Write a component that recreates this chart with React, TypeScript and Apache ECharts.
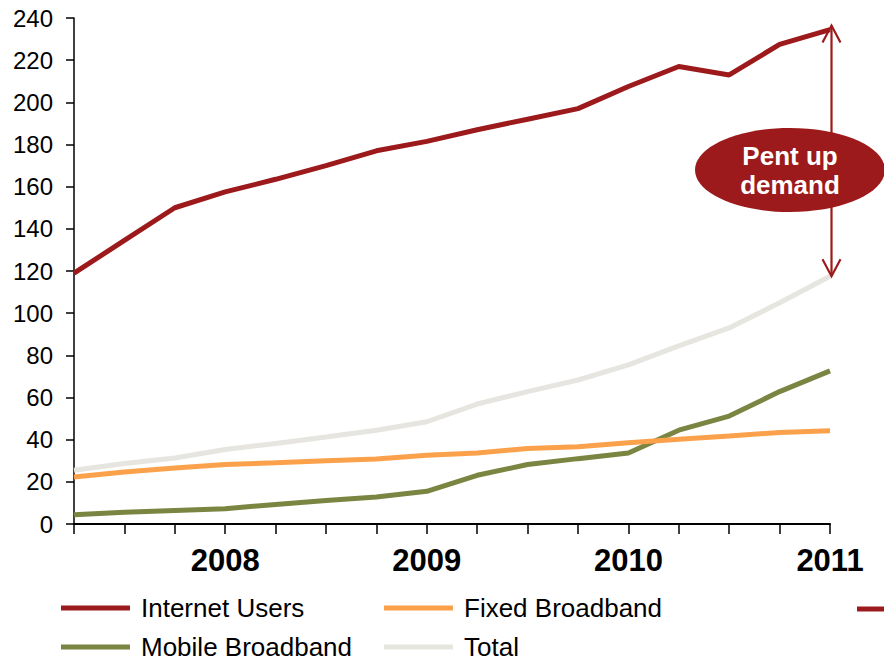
import React, { useEffect, useRef } from "react";
import * as echarts from "echarts";

const periods = [
  "Q1 2007", "Q2 2007", "Q3 2007", "Q4 2007",
  "Q1 2008", "Q2 2008", "Q3 2008", "Q4 2008",
  "Q1 2009", "Q2 2009", "Q3 2009", "Q4 2009",
  "Q1 2010", "Q2 2010", "Q3 2010", "Q4 2010",
];
const tickLabels = ["", "", "", "2008", "", "", "", "2009", "", "", "", "2010", "", "", "", "2011"];

const internetUsers = [119, 134.5, 150, 157.5, 163.5, 170, 177, 181.5, 187, 192, 197, 207.5, 217, 213, 227.5, 234.5];
const fixedBroadband = [22.3, 24.7, 26.6, 28.2, 29, 30, 30.8, 32.6, 33.7, 35.8, 36.6, 38.5, 40.2, 41.7, 43.4, 44.2];
const mobileBroadband = [4.4, 5.6, 6.4, 7.2, 9.3, 11.2, 12.8, 15.5, 23.1, 28.2, 31, 33.7, 44.5, 51.2, 62.8, 72.6];
const total = [25.5, 28.7, 31.3, 35.3, 38.2, 41.3, 44.5, 48.5, 56.9, 62.8, 68.3, 75.5, 84.5, 93, 104.9, 117.5];

const yTicks = { min: 0, max: 240, interval: 20 };

const RED = "#9C1A1C";
const ORANGE = "#FBA14B";
const GREEN = "#7A8542";
const GREY = "#E6E5E0";
const FONT = "'Liberation Sans', Arial, Helvetica, sans-serif";

export default function App() {
  const ref = useRef<HTMLDivElement>(null);

  useEffect(() => {
    document.body.style.margin = "0";
    if (!ref.current) return;
    const chart = echarts.init(ref.current, null, { renderer: "svg" });

    const legendCommon = {
      orient: "vertical" as const,
      top: 595,
      height: 90,
      padding: 0,
      itemGap: 13,
      itemWidth: 69,
      itemHeight: 5,
      icon: "rect",
      textStyle: { fontSize: 26, lineHeight: 26, color: "#000", fontFamily: FONT, padding: [0, 0, 0, 6] },
      selectedMode: false,
    };

    chart.setOption({
      animation: false,
      backgroundColor: "#fff",
      textStyle: { fontFamily: FONT },
      grid: { left: 74, right: 54, top: 18, bottom: 135 },
      legend: [
        { ...legendCommon, left: 61, data: ["Internet Users", "Mobile Broadband"] },
        { ...legendCommon, left: 384, data: ["Fixed Broadband", "Total"] },
      ],
      xAxis: {
        type: "category",
        data: periods,
        boundaryGap: false,
        axisLine: { lineStyle: { color: "#000", width: 2 } },
        axisTick: { show: true, interval: 0, length: 10, lineStyle: { color: "#000", width: 1.5 } },
        axisLabel: {
          interval: 0,
          formatter: (_v: string, idx: number) => tickLabels[idx],
          fontSize: 31,
          fontWeight: "bold",
          color: "#000",
          fontFamily: FONT,
          margin: 21,
        },
        splitLine: { show: false },
      },
      yAxis: {
        type: "value",
        min: yTicks.min,
        max: yTicks.max,
        interval: yTicks.interval,
        axisLine: { show: true, lineStyle: { color: "#000", width: 1.5 } },
        axisTick: { show: true, length: 8, lineStyle: { color: "#000", width: 1.5 } },
        axisLabel: { fontSize: 24, color: "#000", fontFamily: FONT, margin: 21 },
        splitLine: { show: false },
      },
      series: [
        { name: "Internet Users", type: "line", data: internetUsers, symbol: "none", lineStyle: { color: RED, width: 5 }, itemStyle: { color: RED } },
        { name: "Total", type: "line", data: total, symbol: "none", lineStyle: { color: GREY, width: 5 }, itemStyle: { color: GREY } },
        { name: "Mobile Broadband", type: "line", data: mobileBroadband, symbol: "none", lineStyle: { color: GREEN, width: 5 }, itemStyle: { color: GREEN } },
        { name: "Fixed Broadband", type: "line", data: fixedBroadband, symbol: "none", lineStyle: { color: ORANGE, width: 5 }, itemStyle: { color: ORANGE } },
      ],
    });

    const last = periods.length - 1;
    const top = chart.convertToPixel({ xAxisIndex: 0, yAxisIndex: 0 }, [last, internetUsers[last]]) as number[];
    const bot = chart.convertToPixel({ xAxisIndex: 0, yAxisIndex: 0 }, [last, total[last]]) as number[];
    const ax = top[0] + 1.5;
    const ty = top[1] - 4;
    const by = bot[1];
    const arrowStyle = { stroke: RED, lineWidth: 2.2, fill: null };

    chart.setOption({
      graphic: [
        { type: "line", z: 100, shape: { x1: ax, y1: ty, x2: ax, y2: by }, style: arrowStyle },
        { type: "polyline", z: 100, shape: { points: [[ax - 9, ty + 17], [ax, ty], [ax + 9, ty + 17]] }, style: arrowStyle },
        { type: "polyline", z: 100, shape: { points: [[ax - 9, by - 17], [ax, by], [ax + 9, by - 17]] }, style: arrowStyle },
        { type: "ellipse", z: 101, shape: { cx: 790, cy: 170, rx: 95, ry: 42 }, style: { fill: RED } },
        {
          type: "text",
          z: 102,
          x: 790,
          y: 170,
          style: {
            text: "Pent up\ndemand",
            fill: "#fff",
            font: `bold 26px ${FONT}`,
            lineHeight: 29,
            align: "center",
            verticalAlign: "middle",
          },
        },
        { type: "rect", z: 100, shape: { x: 857, y: 606.5, width: 30, height: 5 }, style: { fill: RED } },
      ],
    });

    return () => chart.dispose();
  }, []);

  return <div ref={ref} style={{ width: 884, height: 659 }} />;
}
